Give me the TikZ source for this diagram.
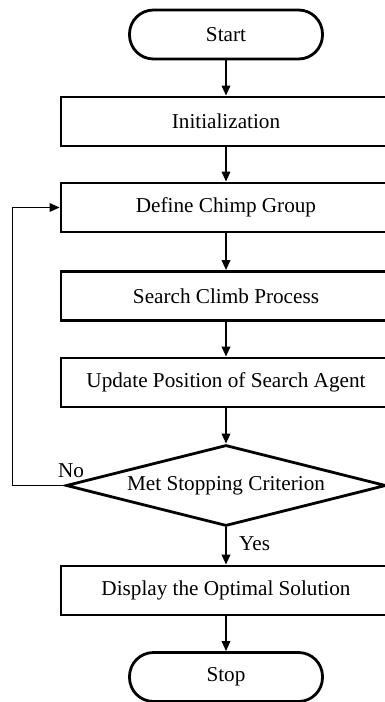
\documentclass[tikz,border=0pt]{standalone}
\usepackage{fontspec}
\setmainfont{Liberation Serif}
\usetikzlibrary{arrows.meta,shapes.geometric}
\tikzset{
  base/.style={draw=black, line width=2.8pt, inner sep=0pt, font=\fontsize{21.2}{25}\selectfont},
  term/.style={base, rounded corners=24pt, minimum width=193pt, minimum height=49pt},
  proc/.style={base, minimum width=330pt, minimum height=49pt},
  decide/.style={base, diamond, aspect=3.95, minimum width=320pt, minimum height=81pt},
  flow/.style={line width=1.8pt, -{Triangle[length=10pt,width=8.5pt]}},
  lbl/.style={font=\fontsize{21.2}{25}\selectfont, inner sep=0pt}
}
\begin{document}
\begin{tikzpicture}[x=1pt,y=-1pt]
  \useasboundingbox (0,0) rectangle (385,702);
  \clip (0,0) rectangle (385,702);
  \fill[white] (0,0) rectangle (385,702);

  % flowchart blocks
  \node[term] (start) at (226,34.5) {Start};
  \node[proc] (init) at (226,121.5) {Initialization};
  \node[proc] (group) at (226,207.5) {Define Chimp Group};
  \node[proc] (climb) at (226,296) {Search Climb Process};
  \node[proc] (update) at (226,382.5) {Update Position of Search Agent};
  \node[decide] (check) at (226,485.5) {Met Stopping Criterion};
  \node[proc] (show) at (226,590.5) {Display the Optimal Solution};
  \node[term] (stop) at (226,677) {Stop};

  % loop-back corner
  \coordinate (loopx) at (12.5,0);

  % connectors
  \draw[flow] (start) -- (init);
  \draw[flow] (init) -- (group);
  \draw[flow] (group) -- (climb);
  \draw[flow] (climb) -- (update);
  \draw[flow] (update) -- (check);
  \draw[flow] (check) -- (show);
  \draw[flow] (show) -- (stop);
  \draw[flow] (check.west) -- (loopx |- check.west) -- (loopx |- group.west) -- (group.west);

  % branch labels
  \node[lbl, anchor=west] (yes) at (239,544) {Yes};
  \node[lbl] (no) at (71,471) {No};
\end{tikzpicture}
\end{document}
